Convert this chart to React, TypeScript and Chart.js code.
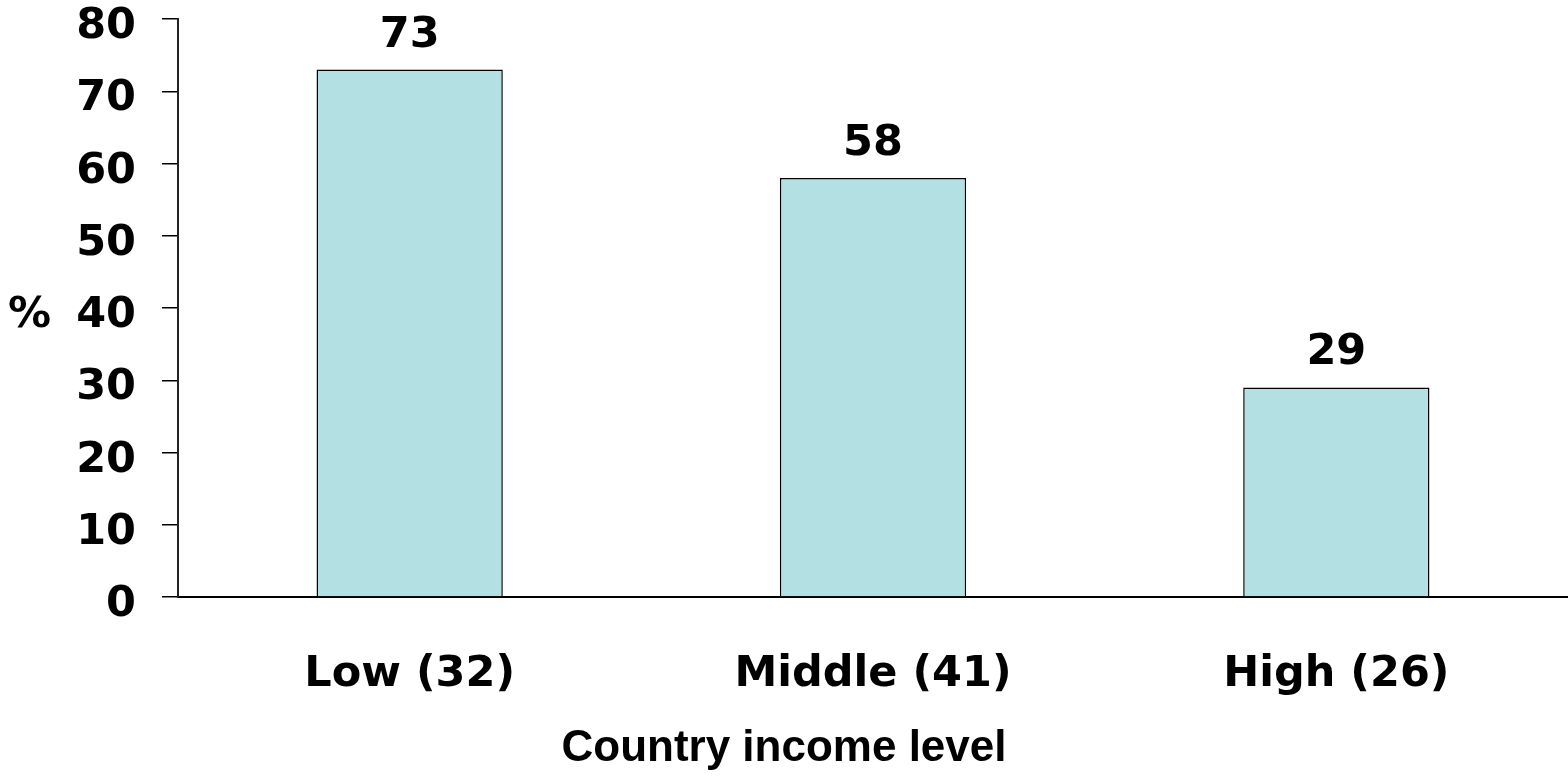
import React, { useEffect, useRef } from "react";
import { Chart, registerables } from "chart.js";

Chart.register(...registerables);

const categories = ["Low (32)", "Middle (41)", "High (26)"];
const values = [73, 58, 29];
const yTicks = [0, 10, 20, 30, 40, 50, 60, 70, 80];
const xTitle = "Country income level";
const yTitle = "%";

const MAIN_FONT = "'DejaVu Sans', Verdana, sans-serif";
const TITLE_FONT = "'Liberation Sans', Arial, sans-serif";

export default function App() {
  const ref = useRef<HTMLCanvasElement | null>(null);

  useEffect(() => {
    const canvas = ref.current;
    if (!canvas) return;

    const overlay = {
      id: "overlay",
      afterDraw(chart: any) {
        const { ctx } = chart;
        const meta = chart.getDatasetMeta(0);
        const y = chart.scales.y;
        const x = chart.scales.x;
        ctx.save();
        ctx.fillStyle = "#000";
        ctx.textBaseline = "alphabetic";
        ctx.font = `bold 43px ${MAIN_FONT}`;

        // value labels above bars
        ctx.textAlign = "center";
        meta.data.forEach((bar: any, i: number) => {
          ctx.fillText(String(values[i]), bar.x, bar.y - 23);
        });

        // y tick labels
        ctx.textAlign = "right";
        yTicks.forEach((v) => {
          ctx.fillText(String(v), 136, y.getPixelForValue(v) + 19);
        });

        // y axis title "%"
        ctx.textAlign = "left";
        ctx.fillText(yTitle, 8, y.getPixelForValue(40) + 19);

        // x category labels
        ctx.textAlign = "center";
        ctx.font = `bold 43px ${MAIN_FONT}`;
        categories.forEach((c, i) => {
          ctx.fillText(c, x.getPixelForValue(i), 686);
        });

        // x axis title centred on the canvas
        ctx.font = `bold 44px ${TITLE_FONT}`;
        ctx.fillText(xTitle, chart.width / 2, 761);
        ctx.restore();
      },
    };

    const chart = new Chart(canvas, {
      type: "bar",
      data: {
        labels: categories,
        datasets: [
          {
            data: values,
            backgroundColor: "#b3e0e3",
            borderColor: "#000",
            borderWidth: 1.5,
            barPercentage: 0.402,
            categoryPercentage: 1,
          },
        ],
      },
      options: {
        responsive: false,
        animation: false,
        layout: { padding: { top: 19, right: 0, bottom: 0, left: 0 } },
        plugins: {
          legend: { display: false },
          tooltip: { enabled: false },
        },
        scales: {
          x: {
            grid: { display: false },
            border: { display: true, color: "#000", width: 2 },
            ticks: { display: false },
            afterFit(scale: any) {
              scale.height = 179;
            },
          },
          y: {
            min: 0,
            max: 80,
            afterBuildTicks(scale: any) {
              scale.ticks = yTicks.map((v) => ({ value: v }));
            },
            grid: {
              display: true,
              drawOnChartArea: false,
              drawTicks: true,
              tickLength: 16,
              color: "#000",
              lineWidth: 1.5,
            },
            border: { display: true, color: "#222", width: 2 },
            ticks: { display: false },
            afterFit(scale: any) {
              scale.width = 178;
            },
          },
        },
      },
      plugins: [overlay],
    });

    return () => chart.destroy();
  }, []);

  return (
    <div style={{ position: "fixed", left: 0, top: 0, width: 1568, height: 776, background: "#fff" }}>
      <canvas ref={ref} width={1568} height={776} style={{ width: 1568, height: 776, display: "block" }} />
    </div>
  );
}
